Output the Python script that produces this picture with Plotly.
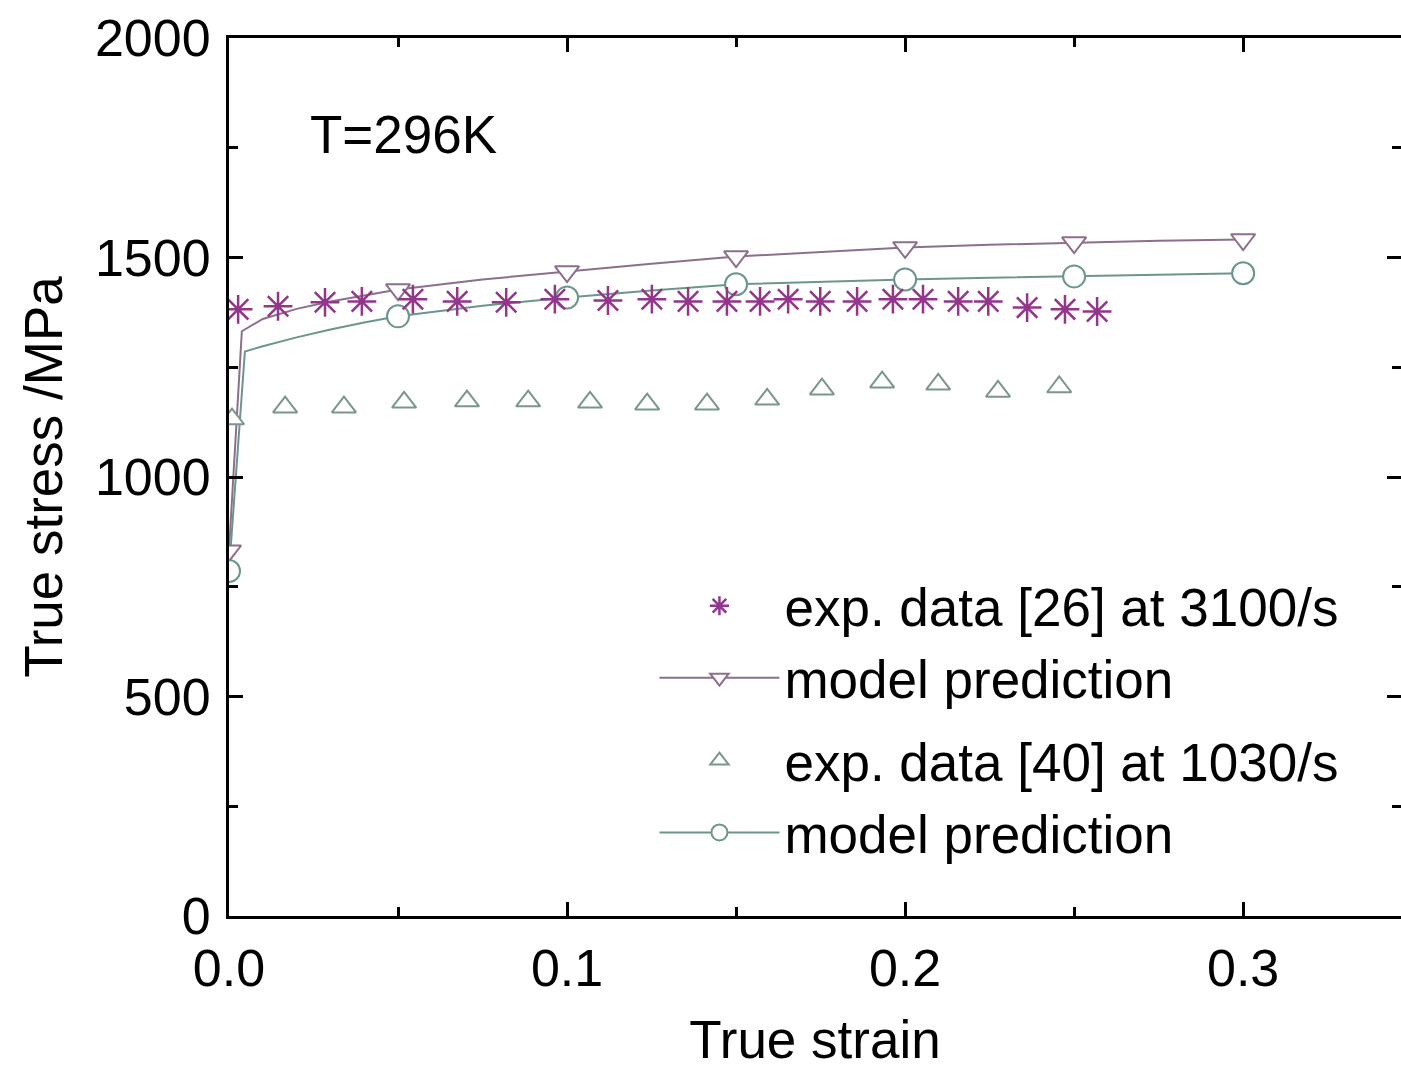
import plotly.graph_objects as go

# --- data ---
exp3100_strain = [0.0027, 0.0145, 0.0284, 0.0393, 0.0544, 0.0675, 0.0820, 0.0964, 0.1121,
                  0.1251, 0.1358, 0.1473, 0.1571, 0.1654, 0.1749, 0.1858, 0.1964, 0.2053,
                  0.2157, 0.2246, 0.2361, 0.2473, 0.2568]
exp3100_stress = [1382, 1389, 1398, 1400, 1405, 1400, 1398, 1405, 1402,
                  1405, 1400, 1400, 1400, 1405, 1400, 1400, 1405, 1405,
                  1400, 1400, 1386, 1382, 1377]

exp1030_strain = [0.0009, 0.0166, 0.0340, 0.0518, 0.0704, 0.0885, 0.1068, 0.1237, 0.1414,
                  0.1592, 0.1754, 0.1932, 0.2098, 0.2275, 0.2456]
exp1030_stress = [1132, 1159, 1159, 1170, 1173, 1173, 1170, 1166, 1166,
                  1177, 1200, 1216, 1211, 1195, 1205]

model3100_curve_strain = [0.0, 0.0038, 0.01, 0.02, 0.03, 0.04, 0.05, 0.075, 0.1, 0.125,
                          0.15, 0.175, 0.2, 0.225, 0.25, 0.275, 0.3]
model3100_curve_stress = [832, 1332, 1360, 1383, 1400, 1414, 1427, 1450, 1468, 1486,
                          1502, 1513, 1523, 1529, 1534, 1538, 1541]
model3100_mark_strain = [0.0, 0.05, 0.1, 0.15, 0.2, 0.25, 0.3]
model3100_mark_stress = [832, 1427, 1468, 1502, 1523, 1534, 1541]

model1030_curve_strain = [0.0, 0.0047, 0.01, 0.02, 0.03, 0.04, 0.05, 0.075, 0.1, 0.125,
                          0.15, 0.175, 0.2, 0.225, 0.25, 0.275, 0.3]
model1030_curve_stress = [786, 1286, 1298, 1318, 1336, 1352, 1366, 1390, 1409, 1425,
                          1439, 1445, 1450, 1454, 1457, 1461, 1464]
model1030_mark_strain = [0.0, 0.05, 0.1, 0.15, 0.2, 0.25, 0.3]
model1030_mark_stress = [786, 1366, 1409, 1439, 1450, 1457, 1464]

x_ticks = [0.0, 0.1, 0.2, 0.3]
x_tick_labels = ["0.0", "0.1", "0.2", "0.3"]
y_ticks = [0, 500, 1000, 1500, 2000]
y_tick_labels = ["0", "500", "1000", "1500", "2000"]

STAR = "#93358a"
PURPLE = "#8c6f8c"
TEAL = "#6b968e"
TRI = "#7a968e"
FONT = "Liberation Sans, Arial, sans-serif"

fig = go.Figure()

# model curves (lines)
fig.add_trace(go.Scatter(x=model3100_curve_strain, y=model3100_curve_stress, mode="lines",
                         line=dict(color=PURPLE, width=2), showlegend=False, hoverinfo="skip"))
fig.add_trace(go.Scatter(x=model1030_curve_strain, y=model1030_curve_stress, mode="lines",
                         line=dict(color=TEAL, width=2), showlegend=False, hoverinfo="skip"))

# model markers
fig.add_trace(go.Scatter(x=model3100_mark_strain, y=model3100_mark_stress, mode="markers",
                         marker=dict(symbol="triangle-down", size=21, color="white",
                                     line=dict(color=PURPLE, width=2)), showlegend=False))
fig.add_trace(go.Scatter(x=model1030_mark_strain, y=model1030_mark_stress, mode="markers",
                         marker=dict(symbol="circle", size=22, color="white",
                                     line=dict(color=TEAL, width=2)), showlegend=False))

# experimental data
fig.add_trace(go.Scatter(x=exp3100_strain, y=exp3100_stress, mode="markers",
                         name="exp. data [26] at 3100/s", legendgroup="a",
                         marker=dict(symbol="asterisk-open", size=24, color=STAR,
                                     line=dict(color=STAR, width=2.5))))
fig.add_trace(go.Scatter(x=[None], y=[None], mode="lines+markers",
                         name="model prediction", legendgroup="a",
                         line=dict(color=PURPLE, width=2),
                         marker=dict(symbol="triangle-down", size=16, color="white",
                                     line=dict(color=PURPLE, width=2))))
fig.add_trace(go.Scatter(x=exp1030_strain, y=exp1030_stress, mode="markers",
                         name="exp. data [40] at 1030/s", legendgroup="b",
                         marker=dict(symbol="triangle-up", size=21, color="white",
                                     line=dict(color=TRI, width=2))))
fig.add_trace(go.Scatter(x=[None], y=[None], mode="lines+markers",
                         name="model prediction", legendgroup="b",
                         line=dict(color=TEAL, width=2),
                         marker=dict(symbol="circle", size=16, color="white",
                                     line=dict(color=TEAL, width=2))))

# helper trace for the right-hand tick axis
fig.add_trace(go.Scatter(x=[None], y=[None], yaxis="y2", showlegend=False, hoverinfo="skip"))

tick_font = dict(family=FONT, size=52, color="black")

fig.update_xaxes(range=[0, 0.3467], tickvals=x_ticks, ticktext=x_tick_labels,
                 showline=True, linecolor="black", linewidth=3, mirror="ticks",
                 ticks="inside", ticklen=14, tickwidth=3, tickcolor="black",
                 showgrid=False, zeroline=False, tickfont=tick_font,
                 title=dict(text="True strain", font=dict(family=FONT, size=53, color="black"),
                            standoff=34),
                 minor=dict(dtick=0.05, tick0=0, ticks="inside", ticklen=9, tickwidth=2.5,
                            tickcolor="black"),
                 ticklabelstandoff=5)

fig.update_layout(
    yaxis=dict(range=[0, 2000], tickvals=y_ticks, ticktext=y_tick_labels,
               showline=True, linecolor="black", linewidth=3, mirror=False,
               ticks="inside", ticklen=14, tickwidth=3, tickcolor="black",
               showgrid=False, zeroline=False, tickfont=tick_font,
               title=dict(text="True stress /MPa", font=dict(family=FONT, size=53, color="black"),
                          standoff=16),
               minor=dict(dtick=250, tick0=0, ticks="inside", ticklen=9, tickwidth=2.5,
                          tickcolor="black"),
               ticklabelstandoff=5),
    yaxis2=dict(range=[0, 2000], overlaying="y", side="right", anchor="x",
                tickvals=y_ticks, showticklabels=False, showline=False,
                ticks="inside", ticklen=14, tickwidth=3, tickcolor="black",
                showgrid=False, zeroline=False,
                minor=dict(dtick=250, tick0=0, ticks="inside", ticklen=9, tickwidth=2.5,
                           tickcolor="black")),
)

fig.add_annotation(x=0.0235, y=1780, xref="x", yref="y", text="T=296K", showarrow=False,
                   xanchor="left", yanchor="middle",
                   font=dict(family=FONT, size=53, color="black"))

fig.update_layout(
    width=1401, height=1069,
    margin=dict(l=229, r=0, t=38, b=151),
    paper_bgcolor="white", plot_bgcolor="white",
    legend=dict(x=0.363, y=0.40, xanchor="left", yanchor="top",
                font=dict(family=FONT, size=53, color="black"),
                bgcolor="rgba(0,0,0,0)", borderwidth=0,
                itemwidth=120, tracegroupgap=11, traceorder="grouped"),
)

fig.write_html("out.html")
